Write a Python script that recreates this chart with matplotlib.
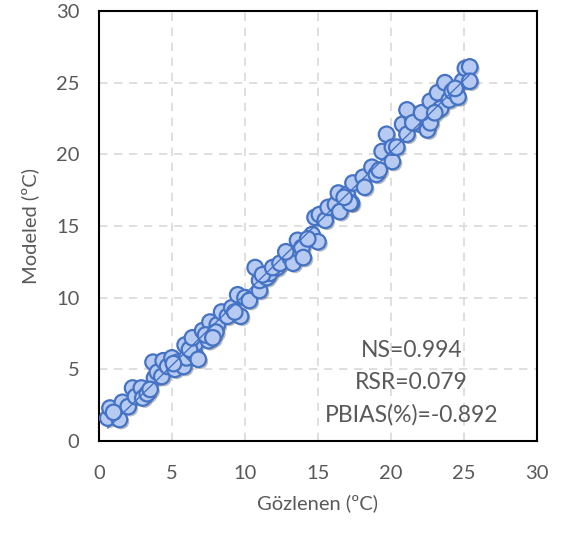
import numpy as np
import matplotlib
matplotlib.use('Agg')
import matplotlib.pyplot as plt
import matplotlib.patheffects as pe

plt.rcParams['font.family'] = ['Lato', 'DejaVu Sans']

observed = [0.6, 0.75, 1.4, 1.6, 2.0, 2.3, 2.5, 2.9, 3.0, 3.3,
            3.7, 3.8, 4.0, 4.3, 4.4, 4.7, 5.0, 5.2, 5.4, 5.8,
            6.0, 6.4, 6.6, 6.1, 6.6, 5.1, 5.9, 6.2, 6.4, 6.8,
            7.1, 7.5, 7.6, 8.1, 8.4, 8.8, 9.1, 9.7, 9.5, 10.0,
            10.3, 10.7, 11.0, 11.0, 11.5, 11.7, 12.2, 11.2, 11.9, 12.4,
            13.1, 13.3, 13.6, 13.9, 14.0, 14.6, 15.0, 14.8, 15.1, 15.5,
            15.7, 16.2, 16.5, 16.4, 17.0, 17.3, 17.4, 17.2, 18.1, 18.2,
            18.7, 19.0, 19.4, 19.7, 20.1, 20.1, 20.4, 20.8, 21.1, 21.5,
            22.0, 22.5, 22.7, 21.3, 21.1, 21.5, 22.1, 22.7, 23.2, 23.4,
            23.7, 24.0, 24.2, 24.6, 24.9, 25.1, 25.4, 25.4, 7.3, 8.0,
            9.3, 12.8, 14.3, 16.8, 19.2, 23.0, 24.4, 3.5, 1.0, 7.8]
modeled = [1.6, 2.3, 1.5, 2.7, 2.4, 3.7, 3.1, 3.7, 3.0, 3.3,
           5.5, 4.4, 4.8, 4.5, 5.6, 5.2, 5.8, 5.0, 5.5, 5.2,
           5.8, 6.2, 6.0, 6.7, 6.8, 5.4, 6.7, 6.4, 7.2, 5.7,
           7.7, 7.0, 8.3, 8.1, 9.0, 8.7, 9.3, 8.7, 10.2, 10.0,
           9.8, 12.1, 10.5, 11.2, 11.4, 11.7, 12.1, 11.6, 12.1, 12.4,
           12.8, 12.4, 14.0, 13.5, 12.8, 14.4, 13.9, 15.6, 15.8, 15.4,
           16.3, 16.5, 16.0, 17.3, 17.2, 16.6, 18.0, 16.6, 18.4, 17.7,
           19.1, 18.6, 20.2, 21.4, 19.5, 20.5, 20.5, 22.1, 21.4, 22.4,
           22.1, 21.7, 22.2, 22.9, 23.1, 22.2, 22.9, 23.7, 24.3, 23.2,
           25.0, 23.8, 24.4, 24.0, 25.1, 26.0, 26.1, 25.1, 7.4, 7.6,
           9.0, 13.2, 14.1, 17.0, 18.9, 22.9, 24.6, 3.6, 2.0, 7.2]
stats_text = ['NS=0.994', 'RSR=0.079', 'PBIAS(%)=-0.892']

fig = plt.figure(figsize=(5.73, 5.4), dpi=100)
ax = fig.add_axes([0.1728, 0.1833, 0.7642, 0.7963])

ax.scatter(observed, modeled, s=125, facecolor='#b7cbf2', edgecolor='#4472c4',
           linewidth=1.6, zorder=3,
           path_effects=[pe.SimplePatchShadow(offset=(1.5, -1.5), alpha=0.35), pe.Normal()])

# linear trend line
k, b = np.polyfit(observed, modeled, 1)
xs = np.array([min(observed), max(observed)])
ax.plot(xs, k * xs + b, color='#4472c4', lw=1.0, zorder=4)

ax.set_xlim(0, 30)
ax.set_ylim(0, 30)
ax.set_xticks(range(0, 31, 5))
ax.set_yticks(range(0, 31, 5))
ax.grid(True, color='#d9d9d9', linestyle=(0, (5, 4)), linewidth=1.2, zorder=0)
ax.set_axisbelow(True)
ax.tick_params(length=0, labelsize=14.5, labelcolor='#595959')
ax.tick_params(axis='x', pad=17)
ax.tick_params(axis='y', pad=14)
for s in ax.spines.values():
    s.set_color('black')
    s.set_linewidth(1.5)

ax.set_xlabel('Gözlenen (ºC)', fontsize=14.5, color='#595959', labelpad=9)
ax.set_ylabel('Modeled (ºC)', fontsize=14.5, color='#595959', labelpad=12)

for i, t in enumerate(stats_text):
    ax.text(21.4, 6.35 - i * 2.25, t, ha='center', va='center', fontsize=16.5, color='#595959')

fig.savefig('out.png', dpi=100)
